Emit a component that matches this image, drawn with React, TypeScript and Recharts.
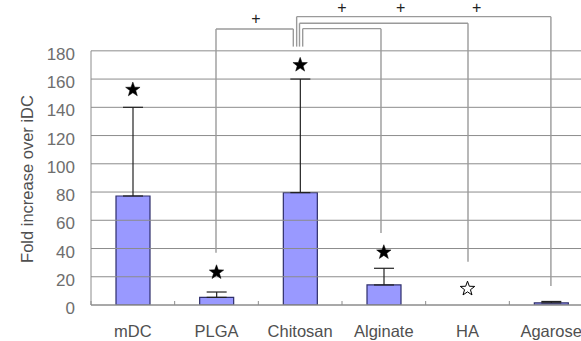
import {
  Bar,
  ComposedChart,
  ErrorBar,
  Line,
  ReferenceDot,
  ReferenceLine,
  XAxis,
  YAxis,
} from 'recharts';

const categories = ['mDC', 'PLGA', 'Chitosan', 'Alginate', 'HA', 'Agarose'];
const foldIncrease = [77.2, 5.4, 79.6, 14.2, null, 1.5];
const errorUpper = [62.8, 3.8, 80.4, 11.8, null, 1];
const starLevel = [153, 23.6, 170.5, 37.8, 12, null];
const starHollow = [false, false, false, false, true, false];
const yTicks = [0, 20, 40, 60, 80, 100, 120, 140, 160, 180];

// brackets comparing Chitosan with the other groups, on a numeric x axis
// where group i spans [i, i + 1]
const bracketOtherX = [1.494, 3.466, 4.506, 5.497];
const bracketOtherLow = [37, 51, 30.7, 13.5];
const bracketChitosanX = [2.418, 2.53, 2.492, 2.458];
const bracketChitosanLow = 183;
const bracketTop = [195.5, 195.7, 199.5, 204.2];
const plusX = [1.97, 3.0, 3.7, 4.61];
const plusY = [203, 210.5, 210.5, 210.5];

const rows = categories.map((name, i) => ({
  name,
  slot: i + 0.5,
  fold: foldIncrease[i],
  err: errorUpper[i] == null ? null : [0, errorUpper[i]],
  star: starLevel[i],
  hollow: starHollow[i],
}));

const font = '"Liberation Sans", Arial, sans-serif';
const gridGray = '#8c8c8c';
const bracketGray = '#9a9a9a';

function starPath(cx: number, cy: number, outer: number, inner: number) {
  const pts: string[] = [];
  for (let k = 0; k < 10; k++) {
    const r = k % 2 === 0 ? outer : inner;
    const a = -Math.PI / 2 + (k * Math.PI) / 5;
    pts.push(`${(cx + r * Math.cos(a)).toFixed(2)},${(cy + r * Math.sin(a)).toFixed(2)}`);
  }
  return `M${pts.join('L')}Z`;
}

function StarDot(props: any) {
  const { cx, cy, index, payload } = props;
  if (cy == null || payload?.star == null) return <g key={`s-${index}`} />;
  return (
    <path
      key={`s-${index}`}
      d={starPath(cx, cy + 0.7, 7.6, 3.1)}
      fill={payload.hollow ? '#fff' : '#000'}
      stroke="#000"
      strokeWidth={payload.hollow ? 1 : 0.5}
    />
  );
}

function CategoryTick(props: any) {
  const { x, y, payload } = props;
  const half = payload?.offset ?? 41.8;
  return (
    <g>
      <line x1={x - half} x2={x - half} y1={y - 4} y2={y} stroke={gridGray} />
      <text
        x={x}
        y={y}
        dy={32}
        textAnchor="middle"
        fontFamily={font}
        fontSize={16.5}
        fill="#505050"
      >
        {payload.value}
      </text>
    </g>
  );
}

function ValueTick(props: any) {
  const { x, y, payload } = props;
  return (
    <text
      x={x}
      y={y}
      dy={9}
      textAnchor="end"
      fontFamily={font}
      fontSize={17}
      fill="#6e6e6e"
    >
      {payload.value}
    </text>
  );
}

function PlusMark(props: any) {
  const { cx, cy } = props;
  return (
    <text
      x={cx}
      y={cy}
      dy={5.5}
      textAnchor="middle"
      fontFamily={font}
      fontSize={16}
      fill="#222"
    >
      +
    </text>
  );
}

export default function App() {
  return (
    <div
      style={{
        position: 'absolute',
        left: 0,
        top: 0,
        width: 581,
        height: 341,
        overflow: 'hidden',
        background: '#fff',
      }}
    >
      <ComposedChart
        width={600}
        height={341}
        data={rows}
        margin={{ top: 0, right: 7, bottom: 0, left: 0 }}
      >
        <XAxis
          dataKey="name"
          height={36}
          tickSize={0}
          tickMargin={0}
          tickLine={false}
          axisLine={{ stroke: gridGray }}
          tick={<CategoryTick />}
          interval={0}
        />
        <XAxis
          xAxisId="n"
          dataKey="slot"
          type="number"
          domain={[0, 6]}
          hide
          allowDataOverflow
        />
        <YAxis
          width={91}
          domain={[0, 216]}
          ticks={yTicks}
          tickSize={0}
          tickMargin={16}
          tickLine={false}
          axisLine={false}
          tick={<ValueTick />}
          allowDataOverflow
          label={() => (
            <text
              x={27}
              y={179}
              transform="rotate(-90 27 179)"
              textAnchor="middle"
              dominantBaseline="central"
              fontFamily={font}
              fontSize={16.5}
              fill="#505050"
            >
              Fold increase over iDC
            </text>
          )}
        />
        {/* horizontal grid at the tick values only */}
        {yTicks.map((v) => (
          <ReferenceLine key={`g-${v}`} y={v} stroke={gridGray} />
        ))}
        {/* value axis line only spans the tick range */}
        <ReferenceLine
          xAxisId="n"
          segment={[
            { x: 0, y: 0 },
            { x: 0, y: yTicks[yTicks.length - 1] },
          ]}
          stroke={gridGray}
          ifOverflow="visible"
        />
        <Bar
          dataKey="fold"
          barSize={34}
          fill="#9999ff"
          stroke="#2e2e6a"
          strokeWidth={1.2}
          isAnimationActive={false}
        >
          <ErrorBar dataKey="err" width={10} stroke="#222" strokeWidth={1.2} direction="y" />
        </Bar>
        <Line
          dataKey="star"
          stroke="none"
          dot={StarDot}
          activeDot={false}
          isAnimationActive={false}
        />
        {bracketOtherX.map((ox, i) => {
          const hx = bracketChitosanX[i];
          const top = bracketTop[i];
          return [
            <ReferenceLine
              key={`bo-${i}`}
              xAxisId="n"
              segment={[
                { x: ox, y: bracketOtherLow[i] },
                { x: ox, y: top },
              ]}
              stroke={bracketGray}
              strokeWidth={1.4}
              ifOverflow="visible"
            />,
            <ReferenceLine
              key={`bt-${i}`}
              xAxisId="n"
              segment={[
                { x: ox, y: top },
                { x: hx, y: top },
              ]}
              stroke={bracketGray}
              strokeWidth={1.4}
              ifOverflow="visible"
            />,
            <ReferenceLine
              key={`bh-${i}`}
              xAxisId="n"
              segment={[
                { x: hx, y: top },
                { x: hx, y: bracketChitosanLow },
              ]}
              stroke={bracketGray}
              strokeWidth={1.4}
              ifOverflow="visible"
            />,
          ];
        })}
        {plusX.map((px, i) => (
          <ReferenceDot
            key={`p-${i}`}
            xAxisId="n"
            x={px}
            y={plusY[i]}
            r={0}
            shape={<PlusMark />}
            ifOverflow="visible"
          />
        ))}
      </ComposedChart>
    </div>
  );
}
